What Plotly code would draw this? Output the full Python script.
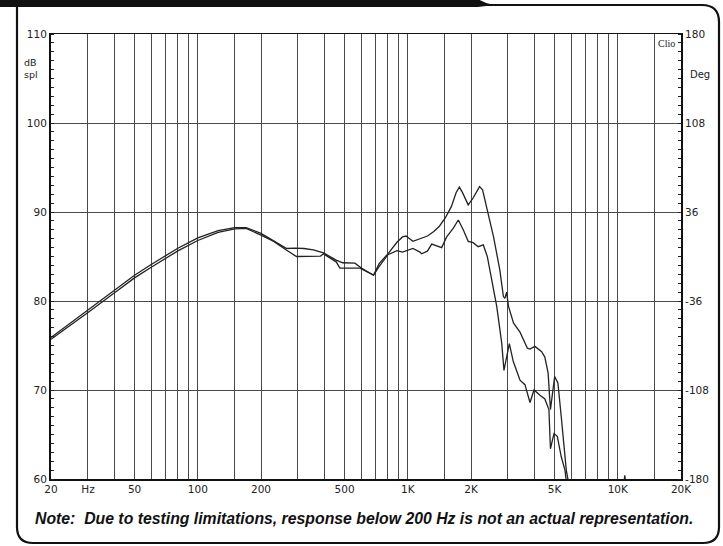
import math
import plotly.graph_objects as go

# ---------------- data ----------------
freq_a = [20, 25, 30, 40, 50, 60, 70, 80, 100, 125, 150, 170, 200, 230, 265, 290, 320, 355,
          397, 456, 490, 560, 601, 687, 730, 804, 888, 944, 980, 1058, 1120, 1241, 1330,
          1414, 1506, 1612, 1700, 1760, 1820, 1940, 2050, 2197, 2270, 2352, 2561, 2743,
          2853, 2900, 2955, 3017, 3190, 3423, 3712, 3819, 4030, 4341, 4494, 4658, 4779,
          5005, 5186, 5380, 5686, 5891]
spl_a = [75.9, 77.6, 79.0, 81.2, 82.9, 84.1, 85.1, 85.9, 87.1, 87.9, 88.25, 88.25, 87.6, 86.8,
         85.9, 85.95, 85.9, 85.75, 85.4, 84.6, 84.3, 84.25, 83.7, 82.9, 84.2, 85.3, 86.6, 87.2,
         87.3, 86.7, 86.9, 87.3, 87.8, 88.4, 89.3, 90.6, 92.2, 92.8, 92.2, 90.8, 91.6, 92.85,
         92.5, 91.0, 87.2, 83.5, 80.5, 80.3, 81.0, 79.4, 77.5, 76.5, 74.7, 74.6, 74.9, 74.3,
         73.7, 71.9, 67.8, 71.5, 70.8, 67.0, 61.0, 59.0]

freq_b = [20, 25, 30, 40, 50, 60, 70, 80, 100, 125, 150, 170, 200, 230, 265, 284, 295, 384,
          397, 456, 475, 592, 633, 687, 730, 804, 888, 944, 1058, 1143, 1164, 1240, 1300,
          1450, 1532, 1648, 1740, 1837, 1940, 2048, 2164, 2289, 2391, 2510, 2652, 2800,
          2871, 3045, 3180, 3423, 3614, 3819, 3990, 4262, 4494, 4700, 4779, 4968, 5152,
          5380, 5605, 5800, 10500, 10800, 11100]
spl_b = [75.7, 77.3, 78.7, 80.9, 82.6, 83.8, 84.8, 85.6, 86.8, 87.7, 88.1, 88.15, 87.4, 86.7,
         85.7, 85.2, 85.0, 85.05, 85.3, 84.4, 83.7, 83.7, 83.3, 82.9, 83.85, 85.2, 85.65, 85.5,
         85.9, 85.5, 85.3, 85.6, 86.4, 86.0, 87.2, 88.2, 89.1, 88.0, 86.7, 86.55, 86.1, 86.3,
         85.0, 82.4, 79.4, 75.3, 72.2, 75.2, 73.2, 71.1, 70.6, 68.6, 70.0, 69.4, 69.0, 67.8,
         63.4, 65.1, 64.8, 62.5, 61.0, 58.0, 58.0, 60.4, 58.0]

grid_freqs = [20, 30, 40, 50, 60, 70, 80, 90, 100, 150, 200, 300, 400, 500, 600, 700, 800, 900,
              1000, 1500, 2000, 3000, 4000, 5000, 6000, 7000, 8000, 9000, 10000, 15000, 20000]
grid_labels = ["20", "Hz", "", "50", "", "", "", "", "100", "", "200", "", "", "500", "", "",
               "", "", "1K", "", "2K", "", "", "5K", "", "", "", "", "10K", "", "20K"]
db_ticks = [60, 70, 80, 90, 100, 110]
db_labels = ["60", "70", "80", "90", "100", "110"]
deg_ticks = [-180, -108, -36, 36, 108, 180]
deg_labels = ["-180", "-108", "-36", "36", "108", "180"]

# ---------------- geometry (pixels) ----------------
W, H = 723, 546
PL, PR, PT, PB = 51, 681, 34, 479


def px(x):
    return (x - PL) / (PR - PL)


def py(y):
    return (PB - y) / (PB - PT)


tick_font = dict(family="DejaVu Sans", size=10.5, color="#222")
line_col = "#222"
grid_col = "#4a4a4a"

fig = go.Figure()
fig.add_trace(go.Scatter(x=freq_a, y=spl_a, mode="lines",
                         line=dict(color=line_col, width=1.3), showlegend=False,
                         hoverinfo="skip"))
fig.add_trace(go.Scatter(x=freq_b, y=spl_b, mode="lines",
                         line=dict(color=line_col, width=1.3), showlegend=False,
                         hoverinfo="skip"))
fig.add_trace(go.Scatter(x=[None], y=[None], yaxis="y2", mode="lines",
                         showlegend=False, hoverinfo="skip"))

frame_path = (
    f"M {px(17)} {py(5)} L {px(17)} {py(527)} Q {px(17)} {py(543)} {px(33)} {py(543)} "
    f"L {px(703)} {py(543)} Q {px(719)} {py(543)} {px(719)} {py(527)} "
    f"L {px(719)} {py(22)} Q {px(719)} {py(5)} {px(702)} {py(5)} L {px(478)} {py(5)}"
)
band_path = (
    f"M {px(0)} {py(-1)} L {px(478)} {py(-1)} Q {px(486)} {py(4)} {px(494)} {py(5)} "
    f"L {px(478)} {py(7)} L {px(0)} {py(7)} Z"
)

fig.update_layout(
    width=W, height=H,
    template="none",
    paper_bgcolor="white", plot_bgcolor="white",
    margin=dict(l=PL, r=W - PR, t=PT, b=H - PB, pad=0),
    xaxis=dict(type="log", range=[math.log10(20), math.log10(20000)],
               tickmode="array", tickvals=grid_freqs, ticktext=grid_labels,
               showgrid=True, gridcolor=grid_col, gridwidth=1,
               showline=True, mirror=True, linecolor="#111", linewidth=1.5,
               ticks="", tickfont=tick_font, zeroline=False, automargin=False),
    yaxis=dict(range=[60, 110], tickmode="array", tickvals=db_ticks, ticktext=db_labels,
               showgrid=True, gridcolor=grid_col, gridwidth=1,
               showline=True, linecolor="#111", linewidth=2,
               ticks="", tickfont=tick_font, zeroline=False, automargin=False,
               minor=dict(tick0=60, dtick=1, ticks="inside", ticklen=3,
                          tickcolor="#222", tickwidth=1, showgrid=False)),
    yaxis2=dict(range=[-180, 180], overlaying="y", side="right",
                tickmode="array", tickvals=deg_ticks, ticktext=deg_labels,
                showgrid=False, showline=True, linecolor="#111", linewidth=2,
                ticks="", tickfont=tick_font, zeroline=False, automargin=False,
                minor=dict(tick0=-180, dtick=7.2, ticks="inside", ticklen=3,
                           tickcolor="#222", tickwidth=1, showgrid=False)),
    shapes=[
        dict(type="path", xref="paper", yref="paper", path=frame_path,
             line=dict(color="#111", width=2.2)),
        dict(type="path", xref="paper", yref="paper", path=band_path,
             fillcolor="#111", line=dict(color="#111", width=0)),
    ],
    annotations=[
        dict(text="dB<br>spl", x=px(22), y=py(55), xref="paper", yref="paper",
             xanchor="left", yanchor="top", align="left", showarrow=False,
             font=dict(family="DejaVu Sans", size=9.5, color="#222")),
        dict(text="Deg", x=px(688), y=py(67), xref="paper", yref="paper",
             xanchor="left", yanchor="top", showarrow=False,
             font=dict(family="DejaVu Sans", size=10, color="#222")),
        dict(text="Clio", x=px(656), y=py(36), xref="paper", yref="paper",
             xanchor="left", yanchor="top", showarrow=False,
             font=dict(family="Liberation Serif", size=10, color="#222")),
        dict(text="<b><i>Note:&nbsp; Due to testing limitations, response below 200 Hz is not an actual representation.</i></b>",
             x=px(364), y=py(518), xref="paper", yref="paper",
             xanchor="center", yanchor="middle", showarrow=False,
             font=dict(family="Liberation Sans", size=15.8, color="#111")),
    ],
)

fig.write_html("out.html",
               config={"displayModeBar": False, "staticPlot": True},
               post_script="document.body.style.margin='0';document.body.style.overflow='hidden';")
